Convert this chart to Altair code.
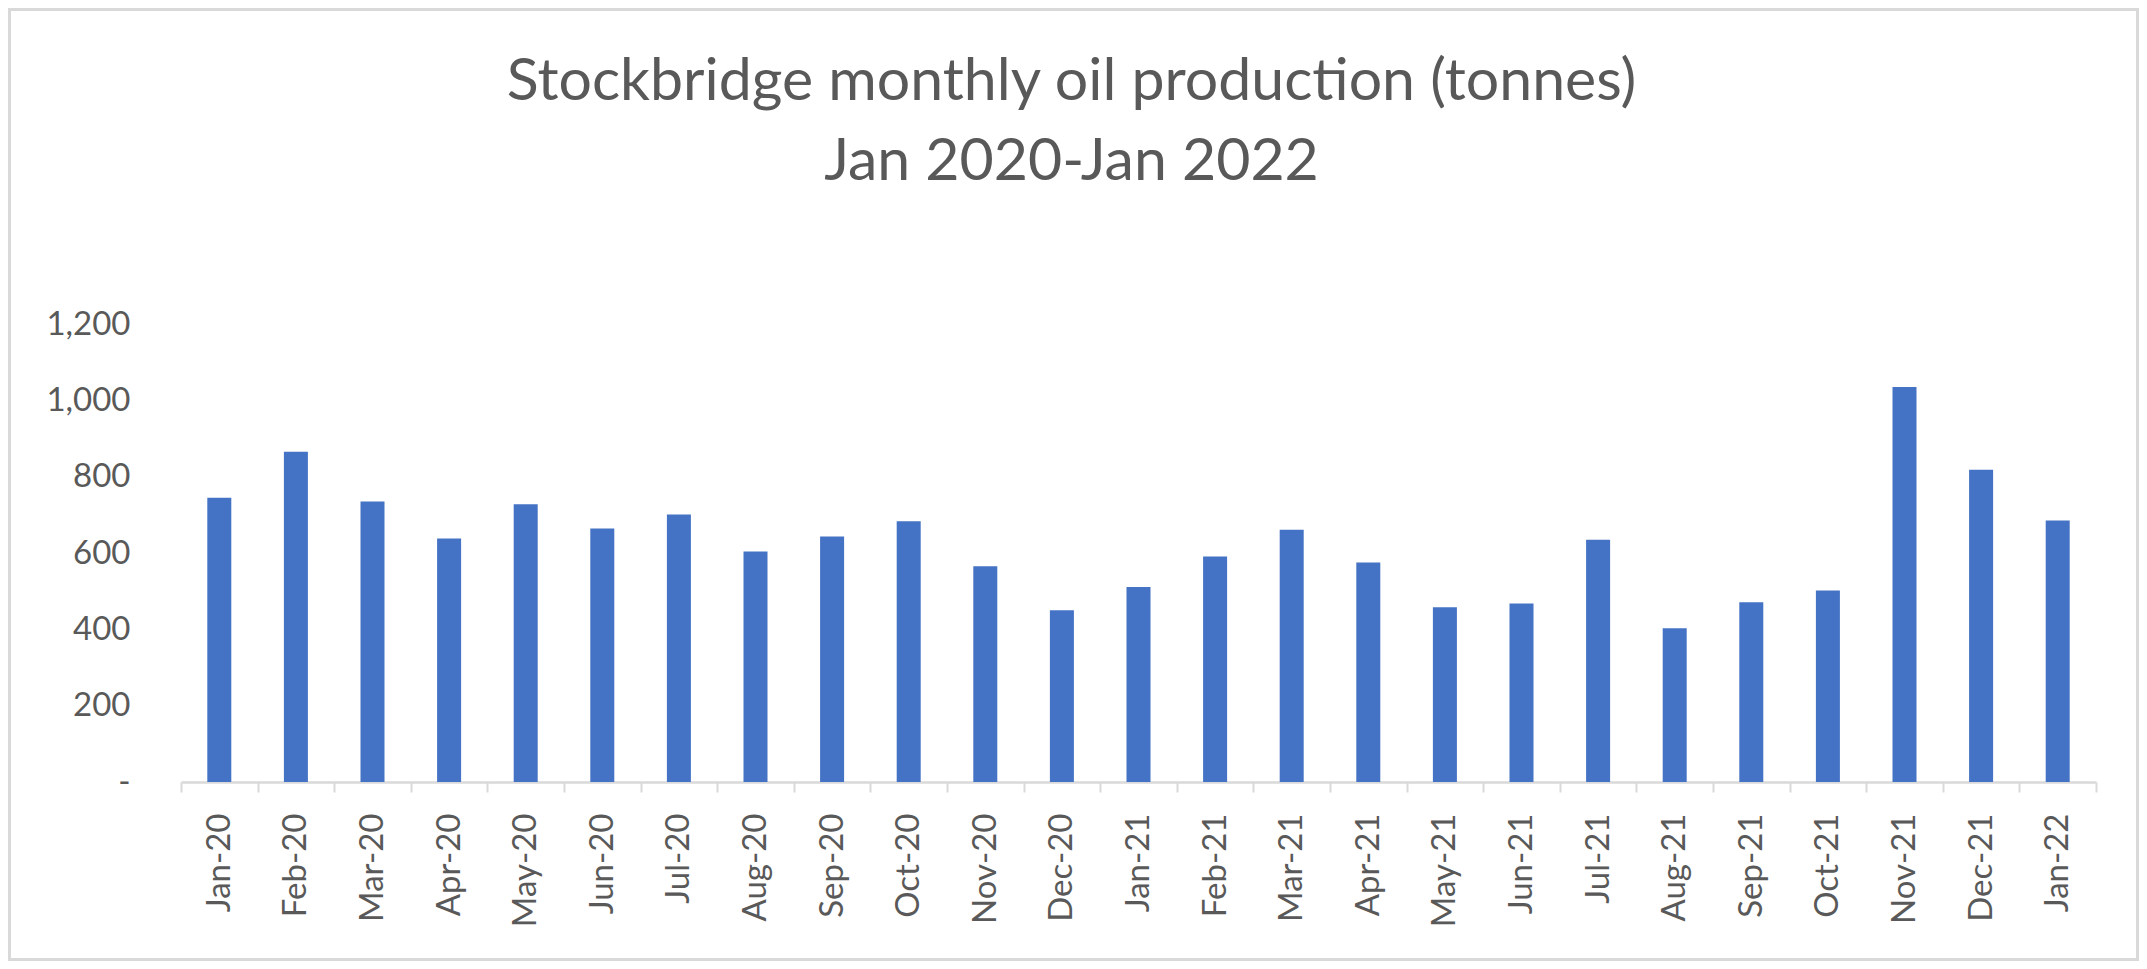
import altair as alt
import pandas as pd

months = ["Jan-20", "Feb-20", "Mar-20", "Apr-20", "May-20", "Jun-20", "Jul-20",
          "Aug-20", "Sep-20", "Oct-20", "Nov-20", "Dec-20", "Jan-21", "Feb-21",
          "Mar-21", "Apr-21", "May-21", "Jun-21", "Jul-21", "Aug-21", "Sep-21",
          "Oct-21", "Nov-21", "Dec-21", "Jan-22"]
production = [745, 865, 735, 638, 728, 664, 701, 604, 643, 683, 565, 450, 511,
              591, 661, 575, 458, 468, 635, 403, 471, 502, 1035, 818, 685]
y_ticks = [0, 200, 400, 600, 800, 1000, 1200]
title_lines = ["Stockbridge monthly oil production (tonnes)", "Jan 2020-Jan 2022"]

df = pd.DataFrame({"month": months, "tonnes": production})

FONT = "Lato"
GREY = "#595959"
LINE = "#D9D9D9"
W, H = 1915, 458
PAD = {"left": 173, "top": 316, "right": 43, "bottom": 179}

bars = alt.Chart(df).mark_bar(size=24, color="#4472C4").encode(
    x=alt.X("month:N", sort=months, title=None,
            scale=alt.Scale(paddingInner=0, paddingOuter=0),
            axis=alt.Axis(labelAngle=270, labelFontSize=33, labelColor=GREY,
                          labelFont=FONT, labelPadding=21, tickBand="extent",
                          tickSize=10, tickColor=LINE, tickWidth=2,
                          domainColor=LINE, domainWidth=2.5, labelOverlap=False)),
    y=alt.Y("tonnes:Q", title=None,
            scale=alt.Scale(domain=[0, 1200], nice=False),
            axis=alt.Axis(values=y_ticks, domain=False, ticks=False, grid=False,
                          labelFontSize=33, labelColor=GREY, labelFont=FONT,
                          labelPadding=51,
                          labelExpr="datum.value == 0 ? '-\u2007' : format(datum.value, ',')")),
)

border = alt.Chart(df).mark_rect(filled=False, stroke=LINE, strokeWidth=3).encode(
    x=alt.value(-PAD["left"] + 1.5), x2=alt.value(W + PAD["right"] - 1.5),
    y=alt.value(-PAD["top"] + 1.5), y2=alt.value(H + PAD["bottom"] - 1.5),
)

chart = alt.layer(border, bars).properties(
    width=W, height=H,
    autosize=alt.AutoSizeParams(type="none"),
    padding=PAD,
    title=alt.TitleParams(title_lines, font=FONT, fontSize=59, fontWeight="normal",
                          color=GREY, anchor="middle", lineHeight=80,
                          offset=-184, dx=-67),
).configure_view(stroke=None)

chart.save("out.html", embed_options={"renderer": "svg", "actions": False})
